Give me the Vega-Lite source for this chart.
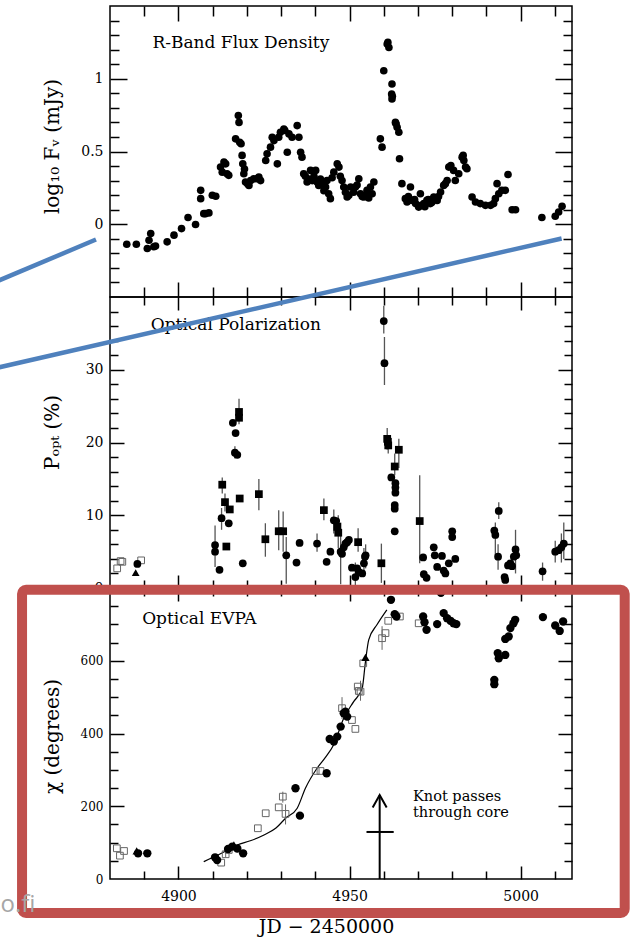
{
"$schema": "https://vega.github.io/schema/vega-lite/v6.json",
"background": "white",
"padding": {"left": -4, "top": 4, "right": 0, "bottom": 0},
"spacing": 0,
"bounds": "flush",
"config": {
  "view": {"stroke": "black", "strokeWidth": 1.5},
  "axis": {"domain": false, "grid": false, "tickColor": "black", "tickWidth": 1.5, "labelColor": "black", "titleColor": "black", "titleFontWeight": "normal", "labelFont": "DejaVu Serif", "titleFont": "DejaVu Serif", "labelOverlap": false, "labelBound": false, "labelFlush": false},
  "text": {"font": "DejaVu Serif", "color": "black"}
},
"datasets": {
  "flux": [
{"jd":4884.9,"f":-0.137},{"jd":4887.7,"f":-0.137},{"jd":4890.9,"f":-0.167},{"jd":4891.4,"f":-0.11},{"jd":4891.9,"f":-0.064},{"jd":4892.8,"f":-0.155},{"jd":4893.3,"f":-0.15},{"jd":4896.7,"f":-0.121},{"jd":4898.7,"f":-0.075},{"jd":4900.9,"f":-0.03},{"jd":4902.8,"f":0.046},{"jd":4905.0,"f":-0.002},{"jd":4906.5,"f":0.233},{"jd":4906.5,"f":0.176},{"jd":4907.4,"f":0.073},{"jd":4907.9,"f":0.073},{"jd":4908.9,"f":0.078},{"jd":4909.9,"f":0.199},{"jd":4910.9,"f":0.192},{"jd":4912.3,"f":0.393},{"jd":4912.8,"f":0.358},{"jd":4913.8,"f":0.415},{"jd":4914.2,"f":0.347},{"jd":4914.7,"f":0.336},{"jd":4913.3,"f":0.427},{"jd":4916.7,"f":0.587},{"jd":4917.5,"f":0.747},{"jd":4917.7,"f":0.70},{"jd":4917.9,"f":0.564},{"jd":4918.3,"f":0.553},{"jd":4918.6,"f":0.473},{"jd":4918.8,"f":0.415},{"jd":4919.1,"f":0.347},{"jd":4919.3,"f":0.38},{"jd":4919.6,"f":0.29},{"jd":4920.2,"f":0.279},{"jd":4920.6,"f":0.267},{"jd":4921.1,"f":0.301},{"jd":4922.0,"f":0.313},{"jd":4922.9,"f":0.313},{"jd":4923.5,"f":0.324},{"jd":4924.0,"f":0.30},{"jd":4925.5,"f":0.438},{"jd":4925.9,"f":0.484},{"jd":4926.9,"f":0.53},{"jd":4927.9,"f":0.575},{"jd":4927.4,"f":0.598},{"jd":4928.9,"f":0.415},{"jd":4929.3,"f":0.598},{"jd":4929.8,"f":0.632},{"jd":4930.8,"f":0.655},{"jd":4931.1,"f":0.644},{"jd":4931.8,"f":0.495},{"jd":4932.3,"f":0.621},{"jd":4933.2,"f":0.598},{"jd":4934.7,"f":0.678},{"jd":4935.2,"f":0.598},{"jd":4935.7,"f":0.495},{"jd":4936.1,"f":0.461},{"jd":4936.6,"f":0.347},{"jd":4937.1,"f":0.33},{"jd":4937.6,"f":0.29},{"jd":4938.1,"f":0.31},{"jd":4938.6,"f":0.37},{"jd":4939.1,"f":0.30},{"jd":4939.6,"f":0.33},{"jd":4940.1,"f":0.37},{"jd":4940.5,"f":0.29},{"jd":4941.0,"f":0.267},{"jd":4941.5,"f":0.31},{"jd":4942.0,"f":0.279},{"jd":4942.5,"f":0.23},{"jd":4943.0,"f":0.256},{"jd":4943.4,"f":0.30},{"jd":4943.9,"f":0.21},{"jd":4944.4,"f":0.176},{"jd":4944.9,"f":0.32},{"jd":4945.4,"f":0.358},{"jd":4946.4,"f":0.415},{"jd":4946.9,"f":0.393},{"jd":4947.3,"f":0.33},{"jd":4947.8,"f":0.301},{"jd":4948.3,"f":0.256},{"jd":4948.8,"f":0.22},{"jd":4949.3,"f":0.187},{"jd":4949.8,"f":0.20},{"jd":4950.3,"f":0.256},{"jd":4951.2,"f":0.22},{"jd":4951.7,"f":0.256},{"jd":4952.2,"f":0.27},{"jd":4952.7,"f":0.313},{"jd":4953.2,"f":0.21},{"jd":4953.7,"f":0.19},{"jd":4954.2,"f":0.187},{"jd":4954.7,"f":0.20},{"jd":4955.1,"f":0.233},{"jd":4955.6,"f":0.18},{"jd":4956.1,"f":0.256},{"jd":4956.6,"f":0.21},{"jd":4957.1,"f":0.29},{"jd":4959.0,"f":0.587},{"jd":4959.5,"f":0.53},{"jd":4960.0,"f":1.055},{"jd":4961.0,"f":1.238},{"jd":4961.2,"f":1.25},{"jd":4961.5,"f":1.215},{"jd":4962.4,"f":0.964},{"jd":4962.3,"f":0.895},{"jd":4962.4,"f":0.861},{"jd":4962.5,"f":0.88},{"jd":4963.4,"f":0.70},{"jd":4963.6,"f":0.69},{"jd":4963.9,"f":0.666},{"jd":4964.4,"f":0.632},{"jd":4964.6,"f":0.45},{"jd":4965.3,"f":0.279},{"jd":4966.3,"f":0.176},{"jd":4966.8,"f":0.153},{"jd":4967.2,"f":0.19},{"jd":4967.8,"f":0.256},{"jd":4968.3,"f":0.164},{"jd":4969.0,"f":0.17},{"jd":4969.3,"f":0.142},{"jd":4970.2,"f":0.118},{"jd":4970.7,"f":0.21},{"jd":4971.0,"f":0.13},{"jd":4971.7,"f":0.142},{"jd":4972.0,"f":0.12},{"jd":4972.6,"f":0.164},{"jd":4973.0,"f":0.17},{"jd":4973.6,"f":0.142},{"jd":4974.0,"f":0.15},{"jd":4974.6,"f":0.187},{"jd":4975.0,"f":0.17},{"jd":4975.6,"f":0.164},{"jd":4976.0,"f":0.19},{"jd":4976.6,"f":0.221},{"jd":4977.5,"f":0.267},{"jd":4978.0,"f":0.279},{"jd":4978.5,"f":0.301},{"jd":4979.0,"f":0.393},{"jd":4979.6,"f":0.404},{"jd":4980.4,"f":0.37},{"jd":4980.9,"f":0.301},{"jd":4981.9,"f":0.347},{"jd":4982.9,"f":0.461},{"jd":4983.2,"f":0.473},{"jd":4983.4,"f":0.438},{"jd":4983.9,"f":0.393},{"jd":4984.3,"f":0.381},{"jd":4985.8,"f":0.187},{"jd":4986.8,"f":0.153},{"jd":4988.2,"f":0.142},{"jd":4989.7,"f":0.13},{"jd":4991.2,"f":0.13},{"jd":4992.1,"f":0.142},{"jd":4992.6,"f":0.176},{"jd":4993.1,"f":0.279},{"jd":4993.6,"f":0.21},{"jd":4994.5,"f":0.233},{"jd":4995.5,"f":0.233},{"jd":4996.3,"f":0.342},{"jd":4997.5,"f":0.10},{"jd":4998.5,"f":0.10},{"jd":5006.2,"f":0.046},{"jd":5010.1,"f":0.055},{"jd":5011.1,"f":0.084},{"jd":5012.1,"f":0.123}
  ],
  "pol": [
{"jd":4882.1,"p":2.7,"s":"o"},{"jd":4883.1,"p":3.7,"s":"o"},{"jd":4883.6,"p":3.6,"s":"o"},{"jd":4889.1,"p":3.8,"s":"o"},{"jd":4887.5,"p":2.1,"s":"t"},{"jd":4888.0,"p":3.3,"s":"c"},
{"jd":4910.7,"p":5.9,"s":"c","lo":2.9,"hi":8.6},{"jd":4910.7,"p":5.0,"s":"c"},{"jd":4912.0,"p":2.5,"s":"c"},{"jd":4912.8,"p":14.2,"s":"s","lo":13.0,"hi":15.2},{"jd":4912.6,"p":9.6,"s":"c","lo":8.0,"hi":11.0},{"jd":4913.6,"p":11.8,"s":"s","lo":10.5,"hi":13.0},{"jd":4914.0,"p":5.7,"s":"s"},{"jd":4915.0,"p":10.8,"s":"s"},{"jd":4914.7,"p":8.9,"s":"c"},{"jd":4915.9,"p":22.7,"s":"c"},{"jd":4916.7,"p":21.3,"s":"c"},{"jd":4916.5,"p":18.6,"s":"c","lo":17.8,"hi":19.5},{"jd":4917.2,"p":18.3,"s":"c"},{"jd":4917.7,"p":24.2,"s":"s","lo":22.5,"hi":26.0},{"jd":4917.7,"p":23.4,"s":"s"},{"jd":4917.9,"p":12.3,"s":"s"},{"jd":4918.8,"p":3.4,"s":"c"},
{"jd":4923.5,"p":12.9,"s":"s","lo":10.7,"hi":15.0},{"jd":4925.4,"p":6.7,"s":"s","lo":4.3,"hi":8.9},{"jd":4929.3,"p":7.8,"s":"s","lo":5.2,"hi":10.7},{"jd":4930.6,"p":7.8,"s":"s","lo":5.0,"hi":10.5},{"jd":4931.5,"p":4.5,"s":"c","lo":0.6,"hi":7.0},{"jd":4934.5,"p":3.5,"s":"c"},{"jd":4935.4,"p":6.2,"s":"c"},
{"jd":4940.5,"p":6.1,"s":"c","lo":5.0,"hi":7.5},{"jd":4942.5,"p":10.7,"s":"s","lo":9.3,"hi":12.3},{"jd":4943.3,"p":3.6,"s":"c"},{"jd":4944.4,"p":5.0,"s":"c"},{"jd":4945.4,"p":9.3,"s":"c","lo":7.5,"hi":10.8},{"jd":4946.1,"p":9.2,"s":"c"},{"jd":4946.4,"p":8.4,"s":"s"},{"jd":4946.7,"p":7.6,"s":"s","lo":5.5,"hi":10.0},{"jd":4947.4,"p":5.0,"s":"c","lo":0.5,"hi":9.0},{"jd":4947.8,"p":4.7,"s":"c"},{"jd":4948.3,"p":5.6,"s":"c"},{"jd":4948.8,"p":6.1,"s":"c"},{"jd":4949.3,"p":6.3,"s":"c"},{"jd":4949.8,"p":6.6,"s":"c"},{"jd":4950.7,"p":2.8,"s":"c"},{"jd":4951.7,"p":1.5,"s":"c","lo":0.0,"hi":3.5},{"jd":4952.2,"p":2.7,"s":"c"},{"jd":4952.5,"p":6.3,"s":"s","lo":5.0,"hi":8.2},{"jd":4952.7,"p":2.2,"s":"c"},{"jd":4953.7,"p":2.0,"s":"c"},{"jd":4954.2,"p":3.4,"s":"c","lo":1.5,"hi":5.5},{"jd":4954.5,"p":4.3,"s":"c"},{"jd":4954.7,"p":4.5,"s":"c","lo":2.7,"hi":6.0},
{"jd":4959.3,"p":3.4,"s":"s","lo":0.7,"hi":6.1},{"jd":4960.0,"p":36.7,"s":"c","lo":35.0,"hi":38.8},{"jd":4960.2,"p":30.9,"s":"c","lo":27.9,"hi":34.5},{"jd":4961.0,"p":20.5,"s":"s","lo":19.0,"hi":22.0},{"jd":4961.2,"p":20.1,"s":"s"},{"jd":4961.3,"p":19.6,"s":"s","lo":18.5,"hi":20.5},{"jd":4964.4,"p":19.0,"s":"s","lo":16.5,"hi":20.5},{"jd":4962.2,"p":15.2,"s":"c"},{"jd":4963.2,"p":16.7,"s":"s","lo":15.5,"hi":18.5},{"jd":4963.4,"p":14.4,"s":"c"},{"jd":4963.4,"p":13.8,"s":"c"},{"jd":4963.4,"p":13.1,"s":"c"},{"jd":4963.2,"p":11.4,"s":"c"},{"jd":4963.2,"p":10.9,"s":"c"},{"jd":4963.2,"p":7.8,"s":"c"},
{"jd":4970.5,"p":9.2,"s":"s","lo":3.4,"hi":15.5},{"jd":4971.5,"p":4.2,"s":"c"},{"jd":4971.7,"p":1.9,"s":"c"},{"jd":4972.5,"p":1.4,"s":"c"},{"jd":4974.6,"p":5.6,"s":"c"},{"jd":4974.9,"p":4.5,"s":"c"},{"jd":4975.6,"p":2.9,"s":"c"},{"jd":4977.0,"p":4.4,"s":"c"},{"jd":4977.5,"p":2.4,"s":"c"},{"jd":4978.0,"p":2.0,"s":"c"},{"jd":4979.0,"p":3.4,"s":"c"},{"jd":4980.0,"p":7.8,"s":"c"},{"jd":4980.0,"p":7.0,"s":"c"},{"jd":4980.9,"p":4.0,"s":"c"},
{"jd":4992.3,"p":7.9,"s":"c"},{"jd":4992.6,"p":7.3,"s":"c","lo":4.5,"hi":9.0},{"jd":4993.6,"p":10.6,"s":"c","lo":9.5,"hi":11.8},{"jd":4993.4,"p":4.3,"s":"c","lo":2.5,"hi":6.0},{"jd":4995.3,"p":1.5,"s":"c"},{"jd":4995.5,"p":1.1,"s":"c"},{"jd":4996.3,"p":3.1,"s":"c"},{"jd":4997.0,"p":3.4,"s":"c"},{"jd":4997.5,"p":3.0,"s":"c"},{"jd":4998.0,"p":4.3,"s":"c"},{"jd":4998.5,"p":5.3,"s":"c","lo":2.0,"hi":8.0},{"jd":4998.7,"p":4.5,"s":"c"},
{"jd":5006.4,"p":2.3,"s":"c","lo":1.0,"hi":3.5},{"jd":5010.1,"p":5.0,"s":"c","lo":3.5,"hi":6.5},{"jd":5011.1,"p":5.2,"s":"c"},{"jd":5011.9,"p":5.6,"s":"c","lo":3.5,"hi":7.5},{"jd":5012.6,"p":6.1,"s":"c","lo":4.0,"hi":9.0}
  ],
  "evpa": [
{"jd":4882.0,"chi":84.4,"s":"o"},{"jd":4882.9,"chi":64.2,"s":"o"},{"jd":4884.1,"chi":77,"s":"o"},{"jd":4887.8,"chi":77,"s":"t"},{"jd":4888.2,"chi":70.6,"s":"c"},{"jd":4890.9,"chi":70.6,"s":"c"},
{"jd":4910.7,"chi":59.6,"s":"c"},{"jd":4911.3,"chi":52,"s":"c"},{"jd":4912.5,"chi":45,"s":"o"},{"jd":4913.8,"chi":68,"s":"o","lo":60,"hi":78},{"jd":4914.7,"chi":79.8,"s":"o"},{"jd":4914.5,"chi":82.5,"s":"c"},{"jd":4915.7,"chi":89,"s":"c"},{"jd":4917.2,"chi":84,"s":"c"},{"jd":4918.9,"chi":70.6,"s":"c"},{"jd":4916.2,"chi":93.5,"s":"t"},
{"jd":4923.2,"chi":139.5,"s":"o"},{"jd":4925.5,"chi":180.7,"s":"o"},{"jd":4929.3,"chi":197,"s":"o"},{"jd":4930.5,"chi":226.4,"s":"o","lo":210,"hi":240},{"jd":4931.3,"chi":179,"s":"o","lo":150,"hi":205},{"jd":4934.2,"chi":249.5,"s":"c"},{"jd":4935.5,"chi":174.2,"s":"c"},
{"jd":4940.1,"chi":297,"s":"o"},{"jd":4941.5,"chi":297,"s":"o"},{"jd":4943.3,"chi":290.7,"s":"c"},{"jd":4944.2,"chi":385,"s":"c"},{"jd":4945.4,"chi":377.7,"s":"c"},{"jd":4946.4,"chi":391.5,"s":"c"},{"jd":4947.4,"chi":419,"s":"c"},{"jd":4948.3,"chi":455.8,"s":"c"},{"jd":4949.3,"chi":446.5,"s":"c"},{"jd":4948.8,"chi":460,"s":"c"},{"jd":4947.8,"chi":469.6,"s":"o","lo":440,"hi":500},{"jd":4950.7,"chi":437,"s":"o"},{"jd":4951.7,"chi":412.6,"s":"o"},{"jd":4952.4,"chi":529,"s":"o"},{"jd":4952.7,"chi":517,"s":"o"},{"jd":4953.2,"chi":515,"s":"o","lo":490,"hi":545},{"jd":4954.0,"chi":593,"s":"o"},{"jd":4954.65,"chi":609,"s":"t"},
{"jd":4959.5,"chi":662,"s":"o","lo":630,"hi":695},{"jd":4960.5,"chi":676,"s":"o"},{"jd":4961.3,"chi":709.8,"s":"o"},{"jd":4964.7,"chi":721.6,"s":"o"},{"jd":4962.1,"chi":767.5,"s":"c"},{"jd":4963.2,"chi":728,"s":"c"},{"jd":4963.7,"chi":721.6,"s":"c"},
{"jd":4970.2,"chi":703,"s":"o"},{"jd":4971.5,"chi":721.6,"s":"c"},{"jd":4971.9,"chi":706,"s":"c"},{"jd":4972.5,"chi":685,"s":"c"},{"jd":4975.6,"chi":700.7,"s":"c"},{"jd":4976.7,"chi":786.8,"s":"c"},{"jd":4977.5,"chi":731,"s":"c"},{"jd":4978.5,"chi":717,"s":"c"},{"jd":4979.5,"chi":709.8,"s":"c"},{"jd":4980.4,"chi":703,"s":"c"},{"jd":4981.2,"chi":700.7,"s":"c"},
{"jd":4992.3,"chi":547.5,"s":"c"},{"jd":4992.3,"chi":535.6,"s":"c"},{"jd":4993.3,"chi":621,"s":"c"},{"jd":4993.6,"chi":607,"s":"c"},{"jd":4995.5,"chi":616,"s":"c"},{"jd":4995.5,"chi":660,"s":"c"},{"jd":4996.5,"chi":666.6,"s":"c"},{"jd":4997.0,"chi":689.7,"s":"c"},{"jd":4997.9,"chi":703,"s":"c"},{"jd":4998.4,"chi":712.5,"s":"c"},
{"jd":5006.5,"chi":720,"s":"c"},{"jd":5010.1,"chi":697,"s":"c"},{"jd":5011.4,"chi":682,"s":"c"},{"jd":5012.4,"chi":708,"s":"c"}
  ],
  "curve": [
{"jd":4907.4,"chi":47.6},{"jd":4912,"chi":68},{"jd":4917.2,"chi":93.5},{"jd":4921,"chi":105},{"jd":4925,"chi":121},{"jd":4928.5,"chi":140},{"jd":4931.3,"chi":167},{"jd":4934.7,"chi":194.5},{"jd":4937.1,"chi":249.5},{"jd":4940.5,"chi":304.5},{"jd":4943,"chi":335},{"jd":4945.4,"chi":370},{"jd":4948.3,"chi":442},{"jd":4951.2,"chi":487.7},{"jd":4953.7,"chi":524.6},{"jd":4954.65,"chi":597.8},{"jd":4955.6,"chi":657.5},{"jd":4958.0,"chi":698.8},{"jd":4960.9,"chi":740}
  ]
},
"vconcat": [
  {
    "width": 462, "height": 291,
    "resolve": {"axis": {"x": "independent", "y": "independent"}},
    "layer": [
      {
        "data": {"name": "flux"},
        "mark": {"type": "point", "filled": true, "size": 58, "color": "black", "opacity": 1},
        "encoding": {
          "x": {"field": "jd", "type": "quantitative", "scale": {"domain": [4880, 5015], "nice": false, "zero": false},
                "axis": {"orient": "top", "offset": -291, "values": [4900,4950,5000], "labels": false, "title": null, "tickSize": 15}},
          "y": {"field": "f", "type": "quantitative", "scale": {"domain": [-0.5, 1.5], "nice": false, "zero": false},
                "axis": {"orient": "left", "values": [0,0.5,1], "labelExpr": "datum.value === 0 ? '0' : datum.value === 1 ? '1' : '0.5'", "ticks": false, "labelPadding": 7, "labelFontSize": 14, "title": "log₁₀ Fᵥ (mJy)", "titleFontSize": 20, "titleX": -58, "titleY": 140, "titleBaseline": "middle"}}
        }
      },
      {
        "data": {"values": [{}]},
        "mark": {"type": "text", "text": "R-Band Flux Density", "align": "left", "baseline": "alphabetic", "fontSize": 17},
        "encoding": {
          "x": {"datum": 4892.4, "type": "quantitative", "axis": {"orient": "bottom", "offset": -291, "values": [4900,4950,5000], "labels": false, "title": null, "tickSize": 15}},
          "y": {"datum": 1.212, "type": "quantitative", "axis": {"orient": "right", "offset": -462, "values": [0,0.5,1], "labels": false, "title": null, "tickSize": 17}}
        }
      },
      {
        "data": {"values": [{}]},
        "mark": {"type": "text", "text": ""},
        "encoding": {
          "x": {"datum": 4950, "type": "quantitative", "axis": {"orient": "top", "offset": -291, "values": [4890,4910,4920,4930,4940,4960,4970,4980,4990,5010], "labels": false, "title": null, "tickSize": 10}},
          "y": {"datum": 0.5, "type": "quantitative", "axis": {"orient": "right", "offset": -462, "values": [-0.4,-0.3,-0.2,-0.1,0.1,0.2,0.3,0.4,0.6,0.7,0.8,0.9,1.1,1.2,1.3,1.4], "labels": false, "title": null, "tickSize": 9}}
        }
      },
      {
        "data": {"values": [{}]},
        "mark": {"type": "text", "text": ""},
        "encoding": {
          "x": {"datum": 4950, "type": "quantitative", "axis": {"orient": "bottom", "offset": -291, "values": [4890,4910,4920,4930,4940,4960,4970,4980,4990,5010], "labels": false, "title": null, "tickSize": 10}},
          "y": {"datum": 0.5, "type": "quantitative", "axis": {"orient": "left", "offset": -462, "values": [0,0.5,1], "labels": false, "title": null, "tickSize": 17}}
        }
      },
      {
        "data": {"values": [{}]},
        "mark": {"type": "text", "text": ""},
        "encoding": {
          "x": {"datum": 4950, "type": "quantitative", "axis": null},
          "y": {"datum": 0.5, "type": "quantitative", "axis": {"orient": "left", "offset": -462, "values": [-0.4,-0.3,-0.2,-0.1,0.1,0.2,0.3,0.4,0.6,0.7,0.8,0.9,1.1,1.2,1.3,1.4], "labels": false, "title": null, "tickSize": 9}}
        }
      }
    ]
  },
  {
    "width": 462, "height": 291,
    "resolve": {"axis": {"x": "independent", "y": "independent"}},
    "layer": [
      {
        "data": {"name": "pol"},
        "transform": [{"filter": "isValid(datum.lo)"}],
        "mark": {"type": "rule", "color": "#555555", "strokeWidth": 1.3},
        "encoding": {
          "x": {"field": "jd", "type": "quantitative", "axis": {"orient": "bottom", "offset": -291, "values": [4900,4950,5000], "labels": false, "title": null, "tickSize": 13}},
          "y": {"field": "lo", "type": "quantitative", "axis": {"orient": "right", "offset": -462, "values": [10,20,30], "labels": false, "title": null, "tickSize": 14}},
          "y2": {"field": "hi"}
        }
      },
      {
        "data": {"name": "pol"},
        "transform": [{"filter": "datum.s === 'o'"}],
        "mark": {"type": "point", "shape": "square", "filled": false, "size": 45, "color": "#666666", "strokeWidth": 1, "opacity": 1},
        "encoding": {
          "x": {"field": "jd", "type": "quantitative", "axis": {"orient": "top", "offset": -291, "values": [4890,4910,4920,4930,4940,4960,4970,4980,4990,5010], "labels": false, "title": null, "tickSize": 8}},
          "y": {"field": "p", "type": "quantitative", "axis": {"orient": "right", "offset": -462, "values": [2,4,6,8,12,14,16,18,22,24,26,28,32,34,36,38], "labels": false, "title": null, "tickSize": 8}}
        }
      },
      {
        "data": {"name": "pol"},
        "transform": [{"filter": "datum.s !== 'o'"}],
        "mark": {"type": "point", "filled": true, "size": 60, "color": "black", "opacity": 1},
        "encoding": {
          "x": {"field": "jd", "type": "quantitative", "scale": {"domain": [4880, 5015], "nice": false, "zero": false},
                "axis": {"orient": "top", "offset": -291, "values": [4900,4950,5000], "labels": false, "title": null, "tickSize": 13}},
          "y": {"field": "p", "type": "quantitative", "scale": {"domain": [0, 40], "nice": false, "zero": false},
                "axis": {"orient": "left", "values": [0,10,20,30], "format": "d", "ticks": false, "labelPadding": 7, "labelFontSize": 14, "title": "Pₒₚₜ (%)", "titleFontSize": 20, "titleX": -58, "titleY": 135, "titleBaseline": "middle"}},
          "shape": {"field": "s", "type": "nominal", "scale": {"domain": ["c", "s", "t"], "range": ["circle", "square", "triangle-up"]}, "legend": null}
        }
      },
      {
        "data": {"values": [{}]},
        "mark": {"type": "text", "text": "Optical Polarization", "align": "left", "baseline": "alphabetic", "fontSize": 17},
        "encoding": {
          "x": {"datum": 4891.9, "type": "quantitative", "axis": {"orient": "bottom", "offset": -291, "values": [4890,4910,4920,4930,4940,4960,4970,4980,4990,5010], "labels": false, "title": null, "tickSize": 8}},
          "y": {"datum": 35.4, "type": "quantitative", "axis": {"orient": "left", "offset": -462, "values": [10,20,30], "labels": false, "title": null, "tickSize": 14}}
        }
      },
      {
        "data": {"values": [{}]},
        "mark": {"type": "text", "text": ""},
        "encoding": {
          "x": {"datum": 4950, "type": "quantitative", "axis": null},
          "y": {"datum": 20, "type": "quantitative", "axis": {"orient": "left", "offset": -462, "values": [2,4,6,8,12,14,16,18,22,24,26,28,32,34,36,38], "labels": false, "title": null, "tickSize": 8}}
        }
      },
      {
        "data": {"values": [{}]},
        "mark": {"type": "rule", "color": "#4f81bd", "strokeWidth": 4.5, "clip": false},
        "encoding": {
          "x": {"datum": 4847.6, "type": "quantitative", "axis": null},
          "y": {"datum": 42.28, "type": "quantitative", "axis": null},
          "x2": {"datum": 4875.9},
          "y2": {"datum": 47.9}
        }
      },
      {
        "data": {"values": [{}]},
        "mark": {"type": "rule", "color": "#4f81bd", "strokeWidth": 4.5, "clip": false},
        "encoding": {
          "x": {"datum": 4847.6, "type": "quantitative", "axis": null},
          "y": {"datum": 30.33, "type": "quantitative", "axis": null},
          "x2": {"datum": 5011.97},
          "y2": {"datum": 48.05}
        }
      }
    ]
  },
  {
    "width": 462, "height": 291,
    "resolve": {"axis": {"x": "independent", "y": "independent"}},
    "layer": [
      {
        "data": {"name": "curve"},
        "mark": {"type": "line", "color": "black", "strokeWidth": 1.2, "interpolate": "monotone"},
        "encoding": {
          "x": {"field": "jd", "type": "quantitative", "axis": {"orient": "top", "offset": -291, "values": [4900,4950,5000], "labels": false, "title": null, "tickSize": 13}},
          "y": {"field": "chi", "type": "quantitative", "axis": {"orient": "right", "offset": -462, "values": [200,400,600], "labels": false, "title": null, "tickSize": 14}}
        }
      },
      {
        "data": {"name": "evpa"},
        "transform": [{"filter": "isValid(datum.lo)"}],
        "mark": {"type": "rule", "color": "#666666", "strokeWidth": 1},
        "encoding": {
          "x": {"field": "jd", "type": "quantitative", "axis": {"orient": "top", "offset": -291, "values": [4890,4910,4920,4930,4940,4960,4970,4980,4990,5010], "labels": false, "title": null, "tickSize": 8}},
          "y": {"field": "lo", "type": "quantitative", "axis": {"orient": "right", "offset": -462, "values": [50,100,150,250,300,350,450,500,550,650,700,750], "labels": false, "title": null, "tickSize": 8}},
          "y2": {"field": "hi"}
        }
      },
      {
        "data": {"name": "evpa"},
        "transform": [{"filter": "datum.s === 'o'"}],
        "mark": {"type": "point", "shape": "square", "filled": false, "size": 45, "color": "#666666", "strokeWidth": 1, "opacity": 1},
        "encoding": {
          "x": {"field": "jd", "type": "quantitative", "axis": {"orient": "bottom", "offset": -291, "values": [4900,4950,5000], "labels": false, "title": null, "tickSize": 13}},
          "y": {"field": "chi", "type": "quantitative", "axis": {"orient": "left", "offset": -462, "values": [200,400,600], "labels": false, "title": null, "tickSize": 14}}
        }
      },
      {
        "data": {"name": "evpa"},
        "transform": [{"filter": "datum.s !== 'o'"}],
        "mark": {"type": "point", "filled": true, "size": 70, "color": "black", "opacity": 1},
        "encoding": {
          "x": {"field": "jd", "type": "quantitative", "scale": {"domain": [4880, 5015], "nice": false, "zero": false},
                "axis": {"orient": "bottom", "values": [4900,4950,5000], "format": "d", "ticks": false, "labelPadding": 10, "labelFontSize": 14, "title": "JD − 2450000", "titleFontSize": 19, "titleX": 216, "titleY": 47, "titleBaseline": "middle"}},
          "y": {"field": "chi", "type": "quantitative", "scale": {"domain": [0, 800], "nice": false, "zero": false},
                "axis": {"orient": "left", "values": [0,200,400,600], "format": "d", "ticks": false, "labelPadding": 7, "labelFontSize": 12, "title": "χ (degrees)", "titleFontSize": 20, "titleX": -58, "titleY": 148, "titleBaseline": "middle"}},
          "shape": {"field": "s", "type": "nominal", "scale": {"domain": ["c", "s", "t"], "range": ["circle", "square", "triangle-up"]}, "legend": null}
        }
      },
      {
        "data": {"values": [{}]},
        "mark": {"type": "text", "text": "Optical EVPA", "align": "left", "baseline": "alphabetic", "fontSize": 17},
        "encoding": {
          "x": {"datum": 4889.4, "type": "quantitative", "axis": {"orient": "bottom", "offset": -291, "values": [4890,4910,4920,4930,4940,4960,4970,4980,4990,5010], "labels": false, "title": null, "tickSize": 8}},
          "y": {"datum": 701.5, "type": "quantitative", "axis": {"orient": "left", "offset": -462, "values": [50,100,150,250,300,350,450,500,550,650,700,750], "labels": false, "title": null, "tickSize": 8}}
        }
      },
      {
        "data": {"values": [{}]},
        "mark": {"type": "text", "text": ["Knot passes", "through core"], "align": "left", "baseline": "alphabetic", "fontSize": 14.5, "lineHeight": 16},
        "encoding": {
          "x": {"datum": 4968.55, "type": "quantitative", "axis": null},
          "y": {"datum": 215, "type": "quantitative", "axis": null}
        }
      },
      {
        "data": {"values": [{}]},
        "mark": {"type": "rule", "color": "black", "strokeWidth": 2},
        "encoding": {
          "x": {"datum": 4958.8, "type": "quantitative", "axis": null},
          "y": {"datum": 0, "type": "quantitative", "axis": null},
          "y2": {"datum": 231}
        }
      },
      {
        "data": {"values": [{}]},
        "mark": {"type": "rule", "color": "black", "strokeWidth": 2},
        "encoding": {
          "x": {"datum": 4954.95, "type": "quantitative", "axis": null},
          "x2": {"datum": 4962.9},
          "y": {"datum": 129.3, "type": "quantitative", "axis": null}
        }
      },
      {
        "data": {"values": [{}]},
        "mark": {"type": "point", "shape": "M-1,1.8L0,0L1,1.8", "filled": false, "size": 196, "color": "black", "strokeWidth": 2, "opacity": 1},
        "encoding": {
          "x": {"datum": 4958.8, "type": "quantitative", "axis": null},
          "y": {"datum": 231, "type": "quantitative", "axis": null}
        }
      },
      {
        "data": {"values": [{}]},
        "mark": {"type": "rect", "filled": false, "stroke": "#c0504d", "strokeWidth": 10, "cornerRadius": 4, "clip": false},
        "encoding": {
          "x": {"datum": 4854.3, "type": "quantitative", "axis": null},
          "x2": {"datum": 5030.4},
          "y": {"datum": 795, "type": "quantitative", "axis": null},
          "y2": {"datum": -93.5}
        }
      },
      {
        "data": {"values": [{}]},
        "mark": {"type": "text", "text": "o.fi", "align": "right", "baseline": "alphabetic", "font": "Open Sans", "fontSize": 24, "color": "#a6a6a6", "clip": false},
        "encoding": {
          "x": {"datum": 4858.2, "type": "quantitative", "axis": null},
          "y": {"datum": -90.8, "type": "quantitative", "axis": null}
        }
      }
    ]
  }
]
}
